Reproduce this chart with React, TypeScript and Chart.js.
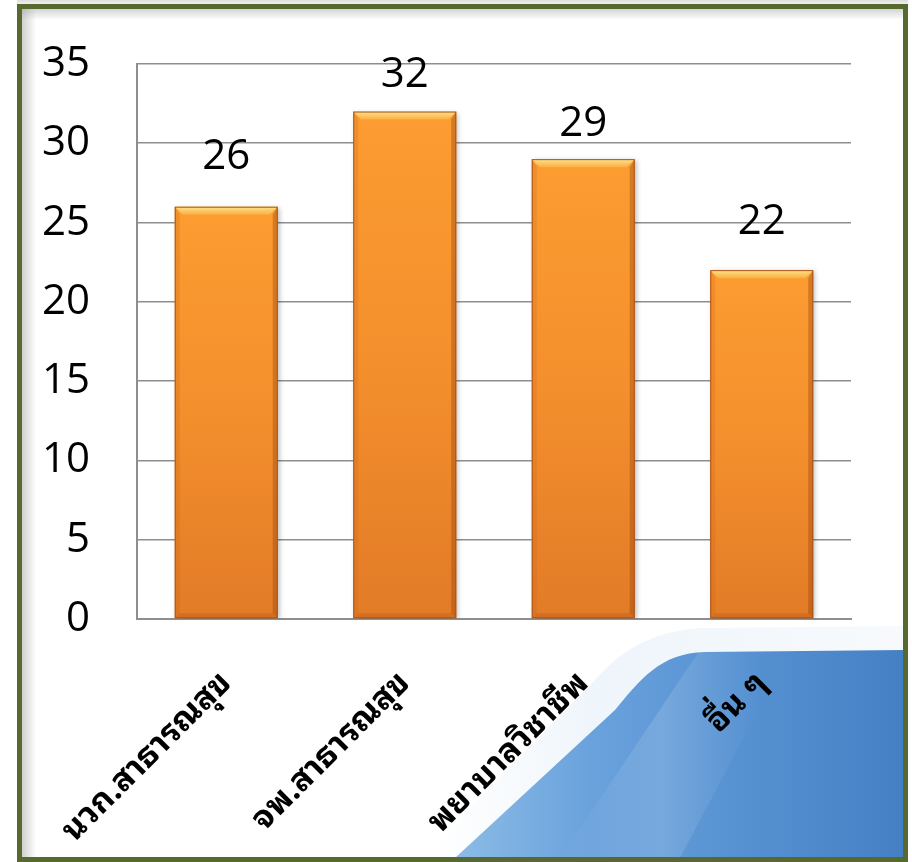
import React, { useEffect, useRef } from "react";
import { Chart, registerables } from "chart.js";

Chart.register(...registerables);

// Chart data
const categories: string[] = ["นวก.สาธารณสุข", "จพ.สาธารณสุข", "พยาบาลวิชาชีพ", "อื่น ๆ"];
const counts: number[] = [26, 32, 29, 22];
const yMin = 0;
const yMax = 35;
const yStep = 5;

const W = 912;
const H = 862;

const NUM_FONT = "'Open Sans', 'Liberation Sans', sans-serif";
const THAI_FONT = "'Noto Sans Thai Looped', 'Noto Serif Thai', 'Noto Sans Thai', Tahoma, 'Noto Sans', sans-serif";

// Page background: white slide, blue swoosh, soft inner shadow
const slideBackground = {
  id: "slideBackground",
  beforeDraw(chart: any) {
    const ctx: CanvasRenderingContext2D = chart.ctx;
    ctx.save();
    ctx.fillStyle = "#ffffff";
    ctx.fillRect(0, 0, W, H);

    // pale haze ahead of the swoosh
    const pale = ctx.createLinearGradient(430, 0, 903, 0);
    pale.addColorStop(0, "rgba(230,240,248,0)");
    pale.addColorStop(0.35, "rgba(225,237,248,0.55)");
    pale.addColorStop(1, "rgba(240,245,250,0.5)");
    ctx.fillStyle = pale;
    ctx.beginPath();
    ctx.moveTo(420, 858);
    ctx.lineTo(595, 680);
    ctx.quadraticCurveTo(635, 632, 700, 628);
    ctx.lineTo(903, 626);
    ctx.lineTo(903, 858);
    ctx.closePath();
    ctx.fill();

    // blue swoosh
    const blue = ctx.createLinearGradient(455, 0, 903, 0);
    blue.addColorStop(0, "#8cbce6");
    blue.addColorStop(0.3, "#6aa2dc");
    blue.addColorStop(0.6, "#5893d3");
    blue.addColorStop(1, "#4580c5");
    ctx.fillStyle = blue;
    ctx.beginPath();
    ctx.moveTo(455, 858);
    ctx.lineTo(615, 710);
    ctx.bezierCurveTo(640, 680, 660, 653, 705, 652);
    ctx.lineTo(903, 650);
    ctx.lineTo(903, 858);
    ctx.closePath();
    ctx.fill();

    // lighter streak across the swoosh
    ctx.save();
    ctx.clip();
    const streak = ctx.createLinearGradient(560, 0, 760, 0);
    streak.addColorStop(0, "rgba(255,255,255,0)");
    streak.addColorStop(0.5, "rgba(255,255,255,0.14)");
    streak.addColorStop(1, "rgba(255,255,255,0)");
    ctx.fillStyle = streak;
    ctx.beginPath();
    ctx.moveTo(560, 858);
    ctx.lineTo(700, 650);
    ctx.lineTo(790, 650);
    ctx.lineTo(680, 858);
    ctx.closePath();
    ctx.fill();
    ctx.restore();

    // soft inner shadow inside the frame
    const left = ctx.createLinearGradient(22, 0, 36, 0);
    left.addColorStop(0, "rgba(150,150,150,0.45)");
    left.addColorStop(1, "rgba(150,150,150,0)");
    ctx.fillStyle = left;
    ctx.fillRect(22, 9, 14, 849);
    const top = ctx.createLinearGradient(0, 9, 0, 20);
    top.addColorStop(0, "rgba(150,150,150,0.4)");
    top.addColorStop(1, "rgba(150,150,150,0)");
    ctx.fillStyle = top;
    ctx.fillRect(22, 9, 881, 11);

    // light strip above the frame
    const above = ctx.createLinearGradient(0, 0, 0, 5);
    above.addColorStop(0, "rgba(200,200,200,0.6)");
    above.addColorStop(1, "rgba(200,200,200,0.2)");
    ctx.fillStyle = above;
    ctx.fillRect(17, 0, 891, 4);
    ctx.restore();
  },
  afterDraw(chart: any) {
    const ctx: CanvasRenderingContext2D = chart.ctx;
    ctx.save();
    ctx.strokeStyle = "#57692e";
    ctx.lineWidth = 5;
    ctx.strokeRect(19.5, 6.5, 886, 853);
    ctx.restore();
  },
};

// Bevel highlights and drop shadow on the bars
const barBevel = {
  id: "barBevel",
  beforeDatasetsDraw(chart: any) {
    const ctx: CanvasRenderingContext2D = chart.ctx;
    ctx.save();
    ctx.shadowColor = "rgba(0,0,0,0.28)";
    ctx.shadowBlur = 5;
    ctx.shadowOffsetX = 2;
    ctx.shadowOffsetY = 1;
  },
  afterDatasetsDraw(chart: any) {
    const ctx: CanvasRenderingContext2D = chart.ctx;
    ctx.restore();
    ctx.save();
    const meta = chart.getDatasetMeta(0);
    meta.data.forEach((bar: any) => {
      const { x, y, base, width } = bar.getProps(["x", "y", "base", "width"], true);
      const x0 = x - width / 2;
      const x1 = x + width / 2;
      const b = 8;
      // top bevel
      const tg = ctx.createLinearGradient(0, y, 0, y + b);
      tg.addColorStop(0, "#fde28c");
      tg.addColorStop(1, "#fbb040");
      ctx.fillStyle = tg;
      ctx.beginPath();
      ctx.moveTo(x0, y);
      ctx.lineTo(x1, y);
      ctx.lineTo(x1 - b, y + b);
      ctx.lineTo(x0 + b, y + b);
      ctx.closePath();
      ctx.fill();
      // right edge
      ctx.fillStyle = "rgba(140,60,10,0.35)";
      ctx.beginPath();
      ctx.moveTo(x1, y);
      ctx.lineTo(x1, base);
      ctx.lineTo(x1 - 5, base - 5);
      ctx.lineTo(x1 - 5, y + b);
      ctx.closePath();
      ctx.fill();
      // left edge
      ctx.fillStyle = "rgba(200,95,15,0.22)";
      ctx.beginPath();
      ctx.moveTo(x0, y);
      ctx.lineTo(x0 + 5, y + b);
      ctx.lineTo(x0 + 5, base - 5);
      ctx.lineTo(x0, base);
      ctx.closePath();
      ctx.fill();
      // bottom edge
      ctx.fillStyle = "rgba(160,70,10,0.22)";
      ctx.beginPath();
      ctx.moveTo(x0, base);
      ctx.lineTo(x1, base);
      ctx.lineTo(x1 - 5, base - 5);
      ctx.lineTo(x0 + 5, base - 5);
      ctx.closePath();
      ctx.fill();
      ctx.strokeStyle = "#a9561b";
      ctx.lineWidth = 1;
      ctx.strokeRect(x0 + 0.5, y + 0.5, width - 1, base - y - 1);
    });
    ctx.restore();
  },
};

// Value labels above each bar
const valueLabels = {
  id: "valueLabels",
  afterDatasetsDraw(chart: any, _args: any, opts: any) {
    const ctx: CanvasRenderingContext2D = chart.ctx;
    const lifts: number[] = opts.lifts || [];
    ctx.save();
    ctx.fillStyle = "#000000";
    ctx.font = `42px ${NUM_FONT}`;
    ctx.textAlign = "center";
    ctx.textBaseline = "middle";
    const meta = chart.getDatasetMeta(0);
    meta.data.forEach((bar: any, i: number) => {
      const v = chart.data.datasets[0].data[i];
      ctx.fillText(String(v), bar.x, bar.y - (lifts[i] ?? 44));
    });
    ctx.restore();
  },
};

export default function App() {
  const canvasRef = useRef<HTMLCanvasElement | null>(null);

  useEffect(() => {
    const canvas = canvasRef.current;
    if (!canvas) return;

    const barFill = (c: any) => {
      const chart = c.chart;
      const yScale = chart.scales?.y;
      if (!yScale || c.dataIndex === undefined) return "#f28e2c";
      const top = yScale.getPixelForValue(counts[c.dataIndex]);
      const bottom = yScale.getPixelForValue(0);
      if (!isFinite(top) || !isFinite(bottom)) return "#f28e2c";
      const g = chart.ctx.createLinearGradient(0, top, 0, bottom);
      g.addColorStop(0, "#fc9c31");
      g.addColorStop(0.5, "#f48f2d");
      g.addColorStop(1, "#e27b27");
      return g;
    };

    const chart = new Chart(canvas, {
      type: "bar",
      data: {
        labels: categories,
        datasets: [
          {
            data: counts,
            backgroundColor: barFill,
            borderWidth: 0,
            barPercentage: 0.577,
            categoryPercentage: 1,
          },
        ],
      },
      options: {
        responsive: false,
        animation: false,
        events: [],
        layout: { padding: { left: 17, right: 61, top: 64, bottom: 0 } },
        plugins: {
          legend: { display: false },
          tooltip: { enabled: false },
          title: { display: false },
          valueLabels: { lifts: [50, 37, 35, 48] },
        } as any,
        scales: {
          x: {
            grid: { display: false, drawTicks: false },
            border: { display: true, color: "#8e8e8e", width: 2 },
            ticks: {
              color: "#000000",
              maxRotation: 45,
              minRotation: 45,
              autoSkip: false,
              padding: 45,
              font: { family: THAI_FONT, size: 33, weight: "bold" },
            },
            afterFit: (s: any) => {
              s.height = H - 619;
              s.paddingLeft = 0;
              s.paddingRight = 0;
            },
          },
          y: {
            min: yMin,
            max: yMax,
            grid: { color: "#8e8e8e", lineWidth: 1.6, drawTicks: false },
            border: { display: true, color: "#8e8e8e", width: 2 },
            ticks: {
              stepSize: yStep,
              color: "#000000",
              padding: 47,
              font: { family: NUM_FONT, size: 42 },
            },
            afterFit: (s: any) => {
              s.width = 120;
              s.paddingTop = 0;
              s.paddingBottom = 0;
            },
          },
        },
      },
      plugins: [slideBackground, barBevel, valueLabels],
    });

    return () => chart.destroy();
  }, []);

  return (
    <div style={{ position: "absolute", left: 0, top: 0, width: W, height: H }}>
      <canvas ref={canvasRef} width={W} height={H} style={{ display: "block" }} />
    </div>
  );
}
